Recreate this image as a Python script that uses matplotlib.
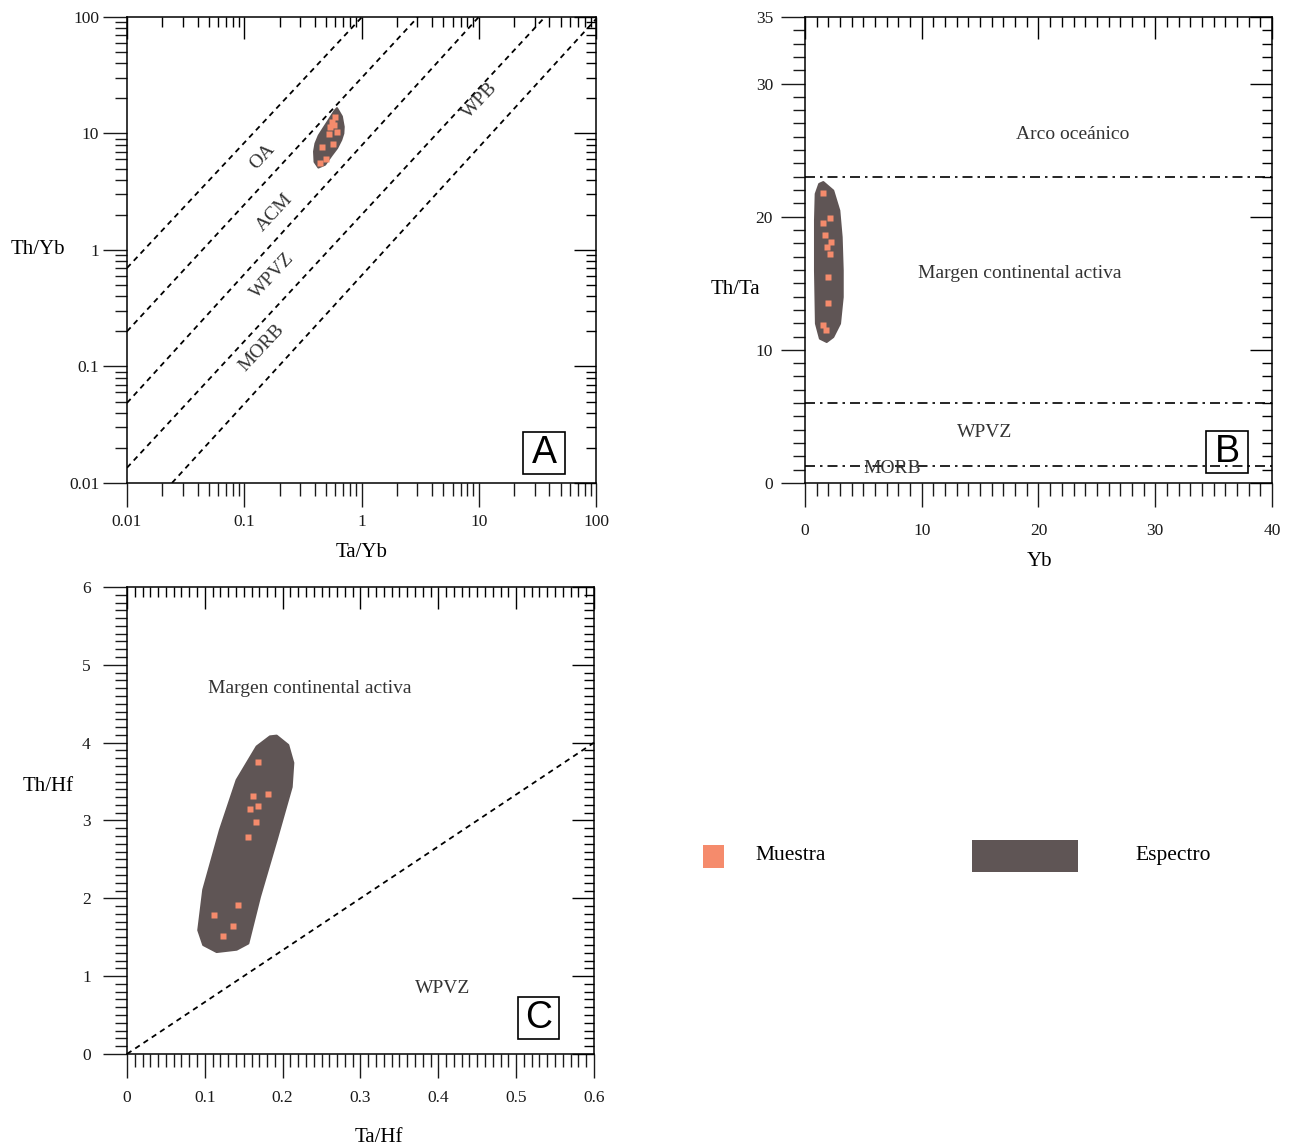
import numpy as np
import matplotlib
matplotlib.use("Agg")
import matplotlib.pyplot as plt
from matplotlib.patches import Polygon, Rectangle
from matplotlib.ticker import LogLocator, MultipleLocator, NullFormatter

plt.rcParams['font.family'] = ['Liberation Serif', 'DejaVu Serif']

SAMPLE_COLOR = '#F58B6C'
FIELD_COLOR = '#5F5555'
TEXT_COLOR = '#1a1a1a'

# Panel A: Th/Yb vs Ta/Yb (log-log)
a_ta_yb = [0.594, 0.557, 0.586, 0.538, 0.614, 0.531, 0.567, 0.464, 0.496, 0.443]
a_th_yb = [13.9, 12.6, 11.8, 11.4, 10.2, 9.9, 8.2, 7.6, 6.0, 5.6]
a_field_x = [0.618, 0.680, 0.705, 0.700, 0.672, 0.620, 0.557, 0.489, 0.429, 0.398,
             0.394, 0.405, 0.432, 0.468, 0.532, 0.588]
a_field_y = [16.5, 14.0, 11.4, 10.0, 8.8, 7.5, 6.5, 5.4, 5.1, 5.7,
             7.0, 8.2, 9.6, 10.9, 13.3, 15.6]
# boundary lines as (x0, y0, x1, y1)
a_lines = [(0.01, 0.70, 1.01, 100),
           (0.01, 0.20, 3.03, 100),
           (0.01, 0.0486, 10.0, 100),
           (0.01, 0.0135, 36.7, 100),
           (0.0242, 0.01, 100, 96)]
a_labels = ['OA', 'ACM', 'WPVZ', 'MORB', 'WPB']
a_label_x = [0.142, 0.183, 0.173, 0.142, 10.25]
a_label_y = [6.3, 2.08, 0.60, 0.144, 19.4]
a_ticks = [0.01, 0.1, 1, 10, 100]
a_ticklabels = ['0.01', '0.1', '1', '10', '100']

# Panel B: Th/Ta vs Yb
b_yb = [1.57, 2.14, 1.57, 1.71, 2.20, 1.91, 2.12, 2.00, 2.00, 1.57, 1.77]
b_th_ta = [21.8, 19.9, 19.5, 18.6, 18.1, 17.7, 17.2, 15.5, 13.5, 11.9, 11.5]
b_field_x = [1.57, 2.42, 2.94, 3.14, 3.23, 3.23, 3.00, 2.42, 1.86, 1.28,
             0.94, 0.86, 0.86, 0.92, 1.22]
b_field_y = [22.6, 21.96, 20.46, 18.46, 15.96, 13.96, 11.97, 10.96, 10.59, 10.84,
             11.97, 15.96, 19.71, 21.71, 22.46]
b_bounds = [23.0, 6.0, 1.3]
b_labels = ['Arco oceánico', 'Margen continental activa', 'WPVZ', 'MORB']
b_label_x = [22.95, 18.4, 15.4, 7.5]
b_label_y = [26.2, 15.7, 3.8, 1.05]

# Panel C: Th/Hf vs Ta/Hf
c_ta_hf = [0.1687, 0.1615, 0.1815, 0.158, 0.1687, 0.1657, 0.1551, 0.1422, 0.1118, 0.1358, 0.1230]
c_th_hf = [3.75, 3.31, 3.34, 3.15, 3.18, 2.98, 2.79, 1.92, 1.79, 1.65, 1.51]
c_field_x = [0.1923, 0.2072, 0.2137, 0.2116, 0.1923, 0.1709, 0.1559, 0.1409, 0.1152,
             0.0980, 0.0916, 0.0980, 0.1195, 0.1409, 0.1666, 0.1837]
c_field_y = [4.09, 3.97, 3.74, 3.43, 2.75, 2.02, 1.42, 1.34, 1.31,
             1.40, 1.59, 2.11, 2.88, 3.52, 3.95, 4.08]
c_line = (0.0, 0.0, 0.6, 4.0)
c_labels = ['Margen continental activa', 'WPVZ']
c_label_x = [0.235, 0.405]
c_label_y = [4.70, 0.835]


def frame(fig, ax, pad_x, pad_y):
    # outward ticks on bottom/left, inward ticks on top/right via an overlay axes
    for s in ax.spines.values():
        s.set_linewidth(1.1)
    ax.tick_params(which='both', direction='out', top=False, right=False,
                   width=1.0, labelsize=12.5, colors=TEXT_COLOR)
    ax.tick_params(which='major', length=17)
    ax.tick_params(which='minor', length=9)
    ax.tick_params(axis='x', pad=pad_x)
    ax.tick_params(axis='y', pad=pad_y)
    ov = fig.add_axes(ax.get_position(), sharex=ax, sharey=ax)
    ov.patch.set_visible(False)
    for s in ov.spines.values():
        s.set_visible(False)
    ov.tick_params(which='both', direction='in', top=True, right=True,
                   bottom=False, left=False, labelbottom=False, labelleft=False,
                   width=1.0)
    ov.tick_params(which='major', length=16)
    ov.tick_params(which='minor', length=7.5)
    return ov


def axis_labels(ax, xlab, xpos, ylab, ypos):
    ax.set_xlabel(xlab, fontsize=15, va='center')
    ax.xaxis.set_label_coords(*xpos)
    ax.set_ylabel(ylab, fontsize=15, rotation=0, ha='center', va='center')
    ax.yaxis.set_label_coords(*ypos)


def panel_letter(ax, letter, x0, y0, w, h):
    ax.add_patch(Rectangle((x0, y0), w, h, transform=ax.transAxes, fill=False,
                           lw=1.2, ec='black', zorder=5))
    ax.text(x0 + w / 2, y0 + h / 2, letter, transform=ax.transAxes, ha='center',
            va='center', fontsize=27, family=['Liberation Sans', 'DejaVu Sans'],
            zorder=6)


fig = plt.figure(figsize=(12.89, 11.48), dpi=100)

# ---- Panel A ----
axA = fig.add_axes([0.0985, 0.5793, 0.3639, 0.4059])
axA.set_xscale('log')
axA.set_yscale('log')
axA.set_xlim(0.01, 100)
axA.set_ylim(0.01, 100)
axA.set_xticks(a_ticks, a_ticklabels)
axA.set_yticks(a_ticks, a_ticklabels)
axA.xaxis.set_minor_locator(LogLocator(base=10, subs=np.arange(2, 10), numticks=20))
axA.yaxis.set_minor_locator(LogLocator(base=10, subs=np.arange(2, 10), numticks=20))
axA.xaxis.set_minor_formatter(NullFormatter())
axA.yaxis.set_minor_formatter(NullFormatter())
frame(fig, axA, pad_x=5, pad_y=3)
for x0, y0, x1, y1 in a_lines:
    axA.plot([x0, x1], [y0, y1], color='black', lw=1.3, ls=(0, (3, 2.5)))
axA.add_patch(Polygon(np.column_stack([a_field_x, a_field_y]), closed=True,
                      fc=FIELD_COLOR, ec=FIELD_COLOR, lw=1.5, joinstyle='round'))
axA.plot(a_ta_yb, a_th_yb, 's', color=SAMPLE_COLOR, ms=4.5, mec='none')
for lab, x, y in zip(a_labels, a_label_x, a_label_y):
    axA.text(x, y, lab, rotation=47, ha='center', va='center', fontsize=14,
             color='#333333')
axis_labels(axA, 'Ta/Yb', (0.501, -0.149), 'Th/Yb', (-0.19, 0.50))
panel_letter(axA, 'A', 0.844, 0.019, 0.090, 0.090)

# ---- Panel B ----
axB = fig.add_axes([0.6245, 0.5793, 0.3623, 0.4059])
axB.set_xlim(0, 40)
axB.set_ylim(0, 35)
axB.set_xticks([0, 10, 20, 30, 40])
axB.set_yticks([0, 10, 20, 30, 35])
axB.xaxis.set_minor_locator(MultipleLocator(1))
axB.yaxis.set_minor_locator(MultipleLocator(1))
frame(fig, axB, pad_x=12, pad_y=6)
for yb in b_bounds:
    axB.axhline(yb, color='black', lw=1.2, ls=(0, (6, 3, 1.5, 3)))
axB.add_patch(Polygon(np.column_stack([b_field_x, b_field_y]), closed=True,
                      fc=FIELD_COLOR, ec=FIELD_COLOR, lw=1.5, joinstyle='round'))
axB.plot(b_yb, b_th_ta, 's', color=SAMPLE_COLOR, ms=4.5, mec='none')
for lab, x, y in zip(b_labels, b_label_x, b_label_y):
    axB.text(x, y, lab, ha='center', va='center', fontsize=14, color='#333333')
axis_labels(axB, 'Yb', (0.503, -0.168), 'Th/Ta', (-0.148, 0.416))
panel_letter(axB, 'B', 0.859, 0.0215, 0.090, 0.090)

# ---- Panel C ----
axC = fig.add_axes([0.0985, 0.0819, 0.3623, 0.4068])
axC.set_xlim(0, 0.6)
axC.set_ylim(0, 6)
axC.set_xticks([0, 0.1, 0.2, 0.3, 0.4, 0.5, 0.6], ['0', '0.1', '0.2', '0.3', '0.4', '0.5', '0.6'])
axC.set_yticks([0, 1, 2, 3, 4, 5, 6])
axC.xaxis.set_minor_locator(MultipleLocator(0.01))
axC.yaxis.set_minor_locator(MultipleLocator(0.1))
frame(fig, axC, pad_x=9, pad_y=9)
axC.plot([c_line[0], c_line[2]], [c_line[1], c_line[3]], color='black', lw=1.3,
         ls=(0, (3, 2.5)))
axC.add_patch(Polygon(np.column_stack([c_field_x, c_field_y]), closed=True,
                      fc=FIELD_COLOR, ec=FIELD_COLOR, lw=1.5, joinstyle='round'))
axC.plot(c_ta_hf, c_th_hf, 's', color=SAMPLE_COLOR, ms=4.5, mec='none')
for lab, x, y in zip(c_labels, c_label_x, c_label_y):
    axC.text(x, y, lab, ha='center', va='center', fontsize=14, color='#333333')
axis_labels(axC, 'Ta/Hf', (0.54, -0.178), 'Th/Hf', (-0.169, 0.572))
panel_letter(axC, 'C', 0.837, 0.032, 0.088, 0.090)

# ---- Legend ----
fig.add_artist(Rectangle((0.5454, 0.2439), 0.0163, 0.0200, transform=fig.transFigure,
                         fc=SAMPLE_COLOR, ec='none'))
fig.text(0.5857, 0.2544, 'Muestra', fontsize=15.5, va='center', ha='left')
fig.add_artist(Rectangle((0.7541, 0.2404), 0.0822, 0.0279, transform=fig.transFigure,
                         fc=FIELD_COLOR, ec='none'))
fig.text(0.8805, 0.2544, 'Espectro', fontsize=15.5, va='center', ha='left')

fig.savefig('out.png', dpi=100)
